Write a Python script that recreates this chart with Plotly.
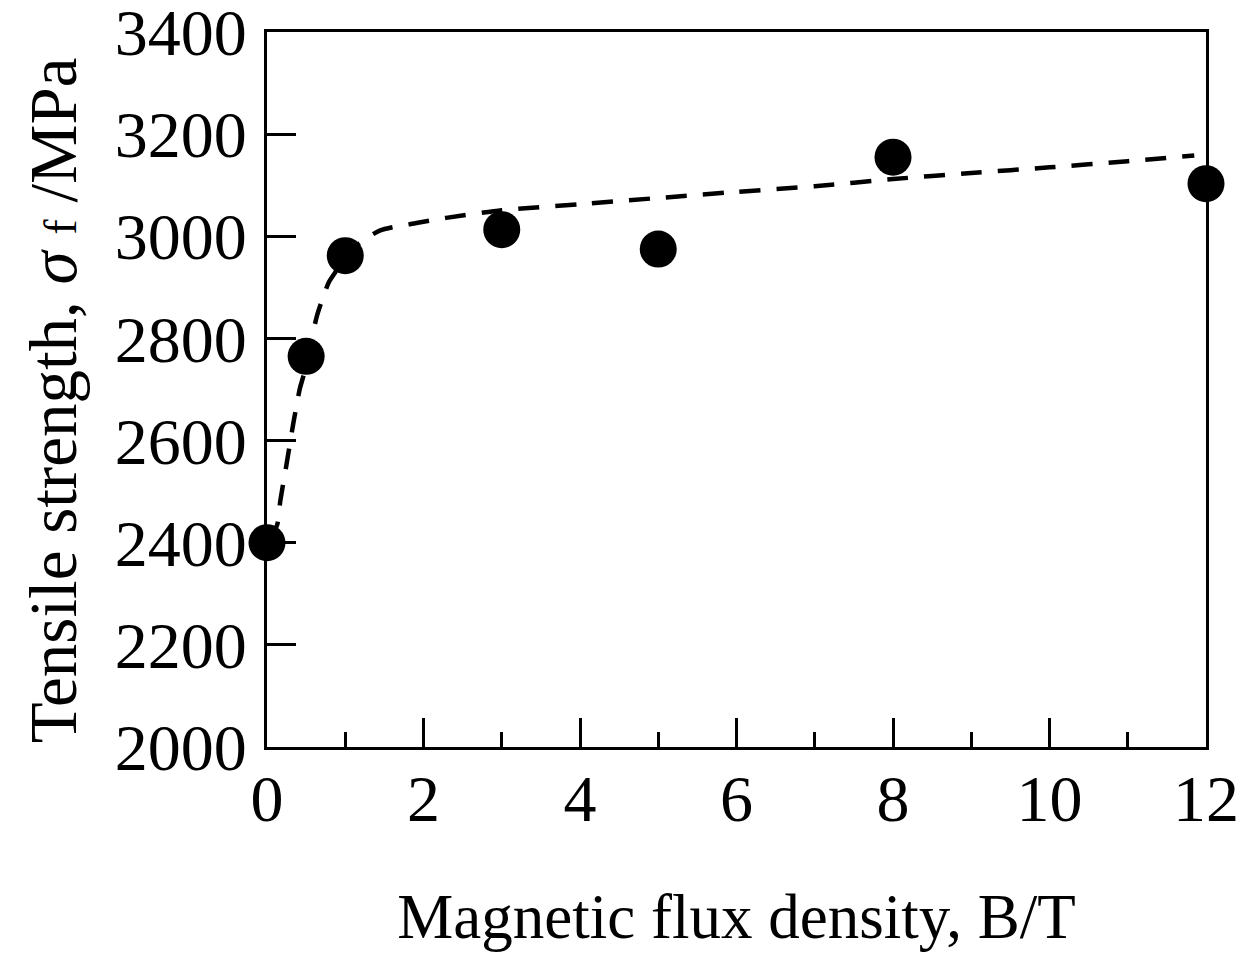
import plotly.graph_objects as go

# Measured data points
flux_B = [0, 0.5, 1, 3, 5, 8, 12]
strength = [2400, 2765, 2962, 3013, 2975, 3155, 3103]

# Dashed fitted curve
curve_B = [0.02, 0.13, 0.17, 0.25, 0.34, 0.42, 0.47, 0.64, 0.79, 0.87, 1.0, 1.44, 1.91, 2.29,
           3, 4, 5, 6, 7, 8, 9, 10, 11, 11.85]
curve_sigma = [2405, 2435, 2482, 2554, 2637, 2702, 2729, 2845, 2910, 2929, 2965, 3011, 3026, 3036,
               3051, 3063, 3075, 3087, 3098, 3112, 3124, 3135, 3147, 3158]

x_ticks = [0, 2, 4, 6, 8, 10, 12]
y_ticks = [2000, 2200, 2400, 2600, 2800, 3000, 3200, 3400]

FONT = "Liberation Serif"

fig = go.Figure()
fig.add_trace(go.Scatter(
    x=curve_B, y=curve_sigma, mode="lines",
    line=dict(color="black", width=4.5, dash="21px,16px", shape="spline", smoothing=0.6),
    hoverinfo="skip", showlegend=False, cliponaxis=False,
))
fig.add_trace(go.Scatter(
    x=flux_B, y=strength, mode="markers",
    marker=dict(color="black", size=37, line=dict(width=0)),
    showlegend=False, cliponaxis=False,
))

axis_common = dict(
    showline=True, linecolor="black", linewidth=3, mirror=True,
    ticks="inside", tickcolor="black", tickwidth=3, ticklen=29,
    showgrid=False, zeroline=False, automargin=False,
    ticklabeloverflow="allow",
    tickfont=dict(family=FONT, size=66, color="black"),
)

fig.update_xaxes(
    range=[0, 12], tickvals=x_ticks, ticktext=[str(v) for v in x_ticks],
    minor=dict(dtick=1, ticks="inside", ticklen=15, tickwidth=3, tickcolor="black"),
    ticklabelstandoff=-8,
    title=dict(text="Magnetic flux density, B/T", font=dict(family=FONT, size=63, color="black"),
               standoff=60),
    **axis_common,
)
fig.update_yaxes(
    range=[2000, 3400], tickvals=y_ticks, ticktext=[str(v) for v in y_ticks],
    ticklabelstandoff=4,
    **axis_common,
)

fig.add_annotation(
    text="Tensile strength, <i>σ</i> <span style='font-size:46px'>f</span> /MPa",
    xref="paper", yref="paper", x=-0.228, y=0.485,
    xanchor="center", yanchor="middle", textangle=-90, showarrow=False,
    font=dict(family=FONT, size=67, color="black"),
)

fig.update_layout(
    width=1244, height=954,
    margin=dict(l=259, r=46, t=24, b=215),
    paper_bgcolor="white", plot_bgcolor="white",
    font=dict(family=FONT, color="black"),
)

fig.write_html("out.html")
